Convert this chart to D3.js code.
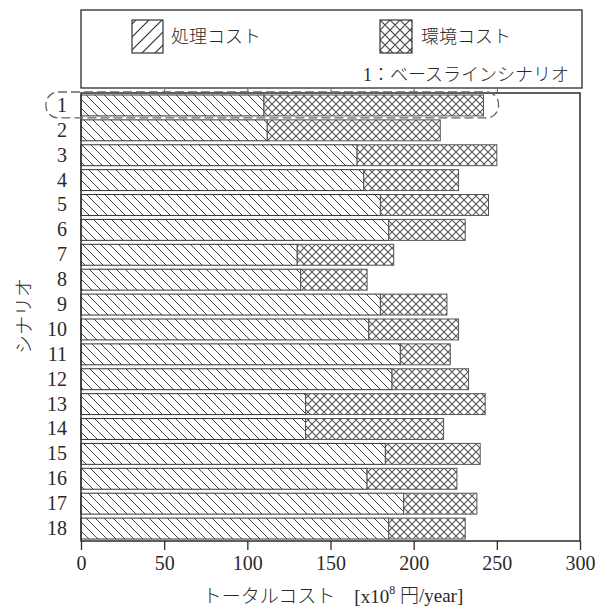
<!DOCTYPE html>
<html><head><meta charset="utf-8">
<script src="https://cdn.jsdelivr.net/npm/d3@7/dist/d3.min.js"></script>
<style>
html,body{margin:0;padding:0;background:#fff;}
text{font-family:"Liberation Serif","Noto Sans CJK JP",serif;fill:#2a2a2a;font-weight:300;}
</style></head>
<body><svg id="c" width="607" height="610"></svg>
<script>
const scenarios = ["1","2","3","4","5","6","7","8","9","10","11","12","13","14","15","16","17","18"];
const processingCost = [110,112,166,170,180,185,130,132,180,173,192,187,135,135,183,172,194,185];
const environmentalCost = [132,104,84,57,65,46,58,40,40,54,30,46,108,83,57,54,44,46];
const xTicks = [0,50,100,150,200,250,300];
const seriesNames = ["処理コスト","環境コスト"];
const baselineNote = "1：ベースラインシナリオ";
const yTitle = "シナリオ";
const xTitleMain = "トータルコスト　[x10";
const xTitleSup = "8";
const xTitleEnd = " 円/year]";

const svg = d3.select("#c");
const L = 81, R = 580, T = 93, B = 541;
const ink = "#2a2a2a";

const defs = svg.append("defs");
function hatch(id, size, dir, color, w){
  const p = defs.append("pattern").attr("id", id).attr("patternUnits","userSpaceOnUse")
    .attr("width", size).attr("height", size);
  p.append("rect").attr("width",size).attr("height",size).attr("fill","#fff");
  const s = size;
  const back = `M0,0 L${s},${s} M${-s/2},${s/2} L${s/2},${s*1.5} M${s/2},${-s/2} L${s*1.5},${s/2}`;
  const fwd = `M0,${s} L${s},0 M${-s/2},${s/2} L${s/2},${-s/2} M${s/2},${s*1.5} L${s*1.5},${s/2}`;
  let d = dir === "back" ? back : dir === "fwd" ? fwd : back + " " + fwd;
  p.append("path").attr("d", d).attr("stroke", color).attr("stroke-width", w).attr("fill","none");
}
hatch("hProc", 9, "back", "#444", 1);
hatch("hEnv", 8, "cross", "#555", 1.1);
hatch("lgProc", 13, "fwd", "#333", 1.2);
hatch("lgEnv", 10, "cross", "#444", 1.2);

const x = d3.scaleLinear().domain([0,300]).range([L, R]);
const y = d3.scaleBand().domain(scenarios).range([T, B]).paddingInner(0.16).paddingOuter(0.08);

const rows = scenarios.map((s,i)=>({s, p:processingCost[i], e:environmentalCost[i]}));

// bars
const g = svg.append("g");
g.selectAll("rect.p").data(rows).join("rect").attr("class","p")
  .attr("x", x(0)).attr("y", d=>y(d.s)).attr("width", d=>x(d.p)-x(0)).attr("height", y.bandwidth())
  .attr("fill","url(#hProc)").attr("stroke","#333").attr("stroke-width",1);
g.selectAll("rect.e").data(rows).join("rect").attr("class","e")
  .attr("x", d=>x(d.p)).attr("y", d=>y(d.s)).attr("width", d=>x(d.p+d.e)-x(d.p)).attr("height", y.bandwidth())
  .attr("fill","url(#hEnv)").attr("stroke","#555").attr("stroke-width",1);

// frame
svg.append("rect").attr("x",L).attr("y",T).attr("width",R-L).attr("height",B-T)
  .attr("fill","none").attr("stroke",ink).attr("stroke-width",1.5);

// bottom axis
const xa = svg.append("g").attr("transform",`translate(0,${B})`)
  .call(d3.axisBottom(x).tickValues(xTicks).tickSize(9).tickPadding(6));
xa.select(".domain").remove();
xa.selectAll("line").attr("stroke",ink).attr("stroke-width",1.3);
xa.selectAll("text").attr("font-size",20).attr("fill",ink).style("font-family","'Liberation Serif',serif");

// top ticks
const ta = svg.append("g").attr("transform",`translate(0,${T})`)
  .call(d3.axisTop(x).tickValues(xTicks.slice(1,-1)).tickSize(4).tickFormat(""));
ta.select(".domain").remove();
ta.selectAll("line").attr("stroke","#555");

// left axis labels
const ya = svg.append("g").attr("transform",`translate(${L},0)`)
  .call(d3.axisLeft(y).tickSize(0).tickPadding(14));
ya.select(".domain").remove();
ya.selectAll("text").attr("font-size",20).attr("fill",ink).style("font-family","'Liberation Serif',serif");

// dashed highlight around baseline
const b1 = y("1");
svg.append("rect").attr("x",46).attr("y",b1-3).attr("width",x(processingCost[0]+environmentalCost[0])+15-46)
  .attr("height",y.bandwidth()+5).attr("rx",12).attr("ry",12)
  .attr("fill","none").attr("stroke","#666").attr("stroke-width",1.3).attr("stroke-dasharray","9,4");

// legend box
svg.append("rect").attr("x",L).attr("y",10).attr("width",582-L).attr("height",78)
  .attr("fill","none").attr("stroke",ink).attr("stroke-width",1.3);
svg.append("rect").attr("x",132).attr("y",20).attr("width",31).attr("height",33)
  .attr("fill","url(#lgProc)").attr("stroke","#333").attr("stroke-width",1.2);
svg.append("text").attr("x",171).attr("y",37).attr("dy","0.35em").attr("font-size",18).text(seriesNames[0]);
svg.append("rect").attr("x",380).attr("y",20).attr("width",32).attr("height",33)
  .attr("fill","url(#lgEnv)").attr("stroke","#333").attr("stroke-width",1.2);
svg.append("text").attr("x",421).attr("y",37).attr("dy","0.35em").attr("font-size",18).text(seriesNames[1]);
svg.append("text").attr("x",569).attr("y",75).attr("dy","0.35em").attr("text-anchor","end")
  .attr("font-size",18).text(baselineNote);

// y title
svg.append("text").attr("transform","translate(24,316) rotate(-90)").attr("text-anchor","middle")
  .attr("dy","0.35em").attr("font-size",19).text(yTitle);

// x title
const xt = svg.append("text").attr("x",333).attr("y",596).attr("dy","0.35em").attr("text-anchor","middle").attr("font-size",19);
xt.append("tspan").text(xTitleMain);
xt.append("tspan").attr("font-size",12).attr("dy","-0.75em").text(xTitleSup);
xt.append("tspan").attr("dy","0.45em").text(xTitleEnd);
</script></body></html>
